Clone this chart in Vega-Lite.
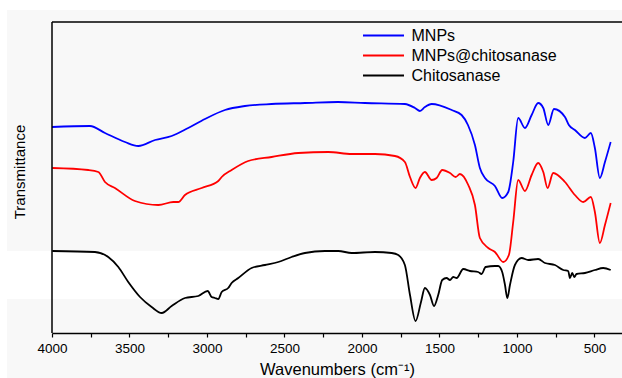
{
  "$schema": "https://vega.github.io/schema/vega-lite/v6.json",
  "width": 570,
  "height": 323,
  "autosize": {"type": "none"},
  "padding": {"left": 52, "top": 10, "right": 0, "bottom": 45},
  "background": "#f8f8f8",
  "config": {
    "view": {"stroke": null},
    "font": "Liberation Sans",
    "axis": {"domainColor": "#000000", "domainWidth": 1.5, "tickColor": "#000000", "labelColor": "#000000", "titleColor": "#000000", "titleFontWeight": "normal"}
  },
  "datasets": {
    "bands": [
      {"x1": 4290, "x2": 200, "y1": 34, "y2": 82},
      {"x1": 5000, "x2": 200, "y1": 323, "y2": 420},
      {"x1": 5000, "x2": 4290, "y1": -100, "y2": 420}
    ],
    "frame": [
      {"xa": 4000, "xb": 300, "ya": 311, "yb": 311},
      {"xa": 4000, "xb": 4000, "ya": 0, "yb": 311}
    ],
    "spectra": [
      {"s": "MNPs", "w": 4000, "t": 206}, {"s": "MNPs", "w": 3755, "t": 207}, {"s": "MNPs", "w": 3658, "t": 200}, {"s": "MNPs", "w": 3529, "t": 191}, {"s": "MNPs", "w": 3443, "t": 187}, {"s": "MNPs", "w": 3335, "t": 193}, {"s": "MNPs", "w": 3228, "t": 197}, {"s": "MNPs", "w": 3121, "t": 205}, {"s": "MNPs", "w": 3013, "t": 214}, {"s": "MNPs", "w": 2884, "t": 223}, {"s": "MNPs", "w": 2755, "t": 227}, {"s": "MNPs", "w": 2583, "t": 229}, {"s": "MNPs", "w": 2368, "t": 230}, {"s": "MNPs", "w": 2155, "t": 231}, {"s": "MNPs", "w": 1981, "t": 230}, {"s": "MNPs", "w": 1723, "t": 229}, {"s": "MNPs", "w": 1658, "t": 225}, {"s": "MNPs", "w": 1626, "t": 222}, {"s": "MNPs", "w": 1594, "t": 226}, {"s": "MNPs", "w": 1550, "t": 229}, {"s": "MNPs", "w": 1421, "t": 223}, {"s": "MNPs", "w": 1357, "t": 218}, {"s": "MNPs", "w": 1316, "t": 208}, {"s": "MNPs", "w": 1271, "t": 188}, {"s": "MNPs", "w": 1239, "t": 165}, {"s": "MNPs", "w": 1206, "t": 155}, {"s": "MNPs", "w": 1142, "t": 147}, {"s": "MNPs", "w": 1095, "t": 135}, {"s": "MNPs", "w": 1056, "t": 141}, {"s": "MNPs", "w": 1024, "t": 171}, {"s": "MNPs", "w": 992, "t": 215}, {"s": "MNPs", "w": 948, "t": 205}, {"s": "MNPs", "w": 905, "t": 218}, {"s": "MNPs", "w": 863, "t": 230}, {"s": "MNPs", "w": 830, "t": 225}, {"s": "MNPs", "w": 798, "t": 208}, {"s": "MNPs", "w": 761, "t": 224}, {"s": "MNPs", "w": 690, "t": 216}, {"s": "MNPs", "w": 665, "t": 208}, {"s": "MNPs", "w": 626, "t": 203}, {"s": "MNPs", "w": 561, "t": 195}, {"s": "MNPs", "w": 523, "t": 200}, {"s": "MNPs", "w": 497, "t": 185}, {"s": "MNPs", "w": 465, "t": 155}, {"s": "MNPs", "w": 432, "t": 171}, {"s": "MNPs", "w": 395, "t": 191},
      {"s": "MNPs@chitosanase", "w": 3998, "t": 165}, {"s": "MNPs@chitosanase", "w": 3766, "t": 163}, {"s": "MNPs@chitosanase", "w": 3701, "t": 161}, {"s": "MNPs@chitosanase", "w": 3658, "t": 151}, {"s": "MNPs@chitosanase", "w": 3594, "t": 145}, {"s": "MNPs@chitosanase", "w": 3465, "t": 132}, {"s": "MNPs@chitosanase", "w": 3314, "t": 128}, {"s": "MNPs@chitosanase", "w": 3217, "t": 131}, {"s": "MNPs@chitosanase", "w": 3185, "t": 131}, {"s": "MNPs@chitosanase", "w": 3142, "t": 138}, {"s": "MNPs@chitosanase", "w": 3034, "t": 145}, {"s": "MNPs@chitosanase", "w": 2927, "t": 152}, {"s": "MNPs@chitosanase", "w": 2905, "t": 156}, {"s": "MNPs@chitosanase", "w": 2841, "t": 163}, {"s": "MNPs@chitosanase", "w": 2734, "t": 172}, {"s": "MNPs@chitosanase", "w": 2583, "t": 176}, {"s": "MNPs@chitosanase", "w": 2411, "t": 180}, {"s": "MNPs@chitosanase", "w": 2217, "t": 181}, {"s": "MNPs@chitosanase", "w": 2066, "t": 179}, {"s": "MNPs@chitosanase", "w": 1916, "t": 179}, {"s": "MNPs@chitosanase", "w": 1787, "t": 177}, {"s": "MNPs@chitosanase", "w": 1723, "t": 171}, {"s": "MNPs@chitosanase", "w": 1690, "t": 156}, {"s": "MNPs@chitosanase", "w": 1654, "t": 145}, {"s": "MNPs@chitosanase", "w": 1626, "t": 155}, {"s": "MNPs@chitosanase", "w": 1594, "t": 161}, {"s": "MNPs@chitosanase", "w": 1550, "t": 153}, {"s": "MNPs@chitosanase", "w": 1518, "t": 155}, {"s": "MNPs@chitosanase", "w": 1482, "t": 163}, {"s": "MNPs@chitosanase", "w": 1432, "t": 160}, {"s": "MNPs@chitosanase", "w": 1395, "t": 156}, {"s": "MNPs@chitosanase", "w": 1368, "t": 159}, {"s": "MNPs@chitosanase", "w": 1314, "t": 148}, {"s": "MNPs@chitosanase", "w": 1271, "t": 128}, {"s": "MNPs@chitosanase", "w": 1239, "t": 95}, {"s": "MNPs@chitosanase", "w": 1185, "t": 85}, {"s": "MNPs@chitosanase", "w": 1142, "t": 81}, {"s": "MNPs@chitosanase", "w": 1088, "t": 71}, {"s": "MNPs@chitosanase", "w": 1052, "t": 78}, {"s": "MNPs@chitosanase", "w": 1024, "t": 111}, {"s": "MNPs@chitosanase", "w": 992, "t": 153}, {"s": "MNPs@chitosanase", "w": 948, "t": 142}, {"s": "MNPs@chitosanase", "w": 905, "t": 158}, {"s": "MNPs@chitosanase", "w": 863, "t": 170}, {"s": "MNPs@chitosanase", "w": 830, "t": 161}, {"s": "MNPs@chitosanase", "w": 802, "t": 145}, {"s": "MNPs@chitosanase", "w": 766, "t": 160}, {"s": "MNPs@chitosanase", "w": 690, "t": 151}, {"s": "MNPs@chitosanase", "w": 626, "t": 138}, {"s": "MNPs@chitosanase", "w": 572, "t": 131}, {"s": "MNPs@chitosanase", "w": 523, "t": 136}, {"s": "MNPs@chitosanase", "w": 497, "t": 121}, {"s": "MNPs@chitosanase", "w": 465, "t": 90}, {"s": "MNPs@chitosanase", "w": 432, "t": 108}, {"s": "MNPs@chitosanase", "w": 395, "t": 130},
      {"s": "Chitosanase", "w": 3998, "t": 82}, {"s": "Chitosanase", "w": 3723, "t": 81}, {"s": "Chitosanase", "w": 3637, "t": 76}, {"s": "Chitosanase", "w": 3572, "t": 66}, {"s": "Chitosanase", "w": 3508, "t": 51}, {"s": "Chitosanase", "w": 3432, "t": 36}, {"s": "Chitosanase", "w": 3357, "t": 26}, {"s": "Chitosanase", "w": 3292, "t": 20}, {"s": "Chitosanase", "w": 3228, "t": 27}, {"s": "Chitosanase", "w": 3142, "t": 35}, {"s": "Chitosanase", "w": 3056, "t": 37}, {"s": "Chitosanase", "w": 2995, "t": 42}, {"s": "Chitosanase", "w": 2970, "t": 36}, {"s": "Chitosanase", "w": 2948, "t": 35}, {"s": "Chitosanase", "w": 2927, "t": 34}, {"s": "Chitosanase", "w": 2905, "t": 41}, {"s": "Chitosanase", "w": 2863, "t": 45}, {"s": "Chitosanase", "w": 2841, "t": 50}, {"s": "Chitosanase", "w": 2798, "t": 55}, {"s": "Chitosanase", "w": 2712, "t": 65}, {"s": "Chitosanase", "w": 2626, "t": 68}, {"s": "Chitosanase", "w": 2540, "t": 71}, {"s": "Chitosanase", "w": 2454, "t": 76}, {"s": "Chitosanase", "w": 2368, "t": 80}, {"s": "Chitosanase", "w": 2239, "t": 82}, {"s": "Chitosanase", "w": 2153, "t": 82}, {"s": "Chitosanase", "w": 2066, "t": 80}, {"s": "Chitosanase", "w": 1916, "t": 81}, {"s": "Chitosanase", "w": 1808, "t": 80}, {"s": "Chitosanase", "w": 1766, "t": 78}, {"s": "Chitosanase", "w": 1723, "t": 68}, {"s": "Chitosanase", "w": 1690, "t": 38}, {"s": "Chitosanase", "w": 1654, "t": 12}, {"s": "Chitosanase", "w": 1619, "t": 31}, {"s": "Chitosanase", "w": 1594, "t": 45}, {"s": "Chitosanase", "w": 1561, "t": 38}, {"s": "Chitosanase", "w": 1535, "t": 27}, {"s": "Chitosanase", "w": 1508, "t": 38}, {"s": "Chitosanase", "w": 1482, "t": 53}, {"s": "Chitosanase", "w": 1454, "t": 55}, {"s": "Chitosanase", "w": 1432, "t": 53}, {"s": "Chitosanase", "w": 1411, "t": 56}, {"s": "Chitosanase", "w": 1389, "t": 55}, {"s": "Chitosanase", "w": 1346, "t": 64}, {"s": "Chitosanase", "w": 1303, "t": 62}, {"s": "Chitosanase", "w": 1250, "t": 61}, {"s": "Chitosanase", "w": 1228, "t": 59}, {"s": "Chitosanase", "w": 1202, "t": 66}, {"s": "Chitosanase", "w": 1142, "t": 67}, {"s": "Chitosanase", "w": 1121, "t": 67}, {"s": "Chitosanase", "w": 1095, "t": 61}, {"s": "Chitosanase", "w": 1077, "t": 48}, {"s": "Chitosanase", "w": 1062, "t": 35}, {"s": "Chitosanase", "w": 1045, "t": 48}, {"s": "Chitosanase", "w": 1013, "t": 68}, {"s": "Chitosanase", "w": 970, "t": 75}, {"s": "Chitosanase", "w": 927, "t": 73}, {"s": "Chitosanase", "w": 863, "t": 74}, {"s": "Chitosanase", "w": 819, "t": 70}, {"s": "Chitosanase", "w": 755, "t": 68}, {"s": "Chitosanase", "w": 701, "t": 63}, {"s": "Chitosanase", "w": 669, "t": 62}, {"s": "Chitosanase", "w": 658, "t": 55}, {"s": "Chitosanase", "w": 643, "t": 60}, {"s": "Chitosanase", "w": 630, "t": 56}, {"s": "Chitosanase", "w": 615, "t": 59}, {"s": "Chitosanase", "w": 561, "t": 60}, {"s": "Chitosanase", "w": 497, "t": 63}, {"s": "Chitosanase", "w": 443, "t": 65}, {"s": "Chitosanase", "w": 395, "t": 63}
    ]
  },
  "layer": [
    {
      "data": {"name": "bands"},
      "mark": {"type": "rect", "color": "#ffffff", "clip": false},
      "encoding": {
        "x": {"field": "x1", "type": "quantitative", "scale": {"domain": [4000, 322], "nice": false, "zero": false}},
        "x2": {"field": "x2"},
        "y": {"field": "y1", "type": "quantitative", "scale": {"domain": [0, 323], "nice": false}},
        "y2": {"field": "y2"}
      }
    },
    {
      "data": {"name": "spectra"},
      "mark": {"type": "line", "strokeWidth": 1.8, "interpolate": "monotone"},
      "encoding": {
        "x": {
          "field": "w", "type": "quantitative",
          "scale": {"domain": [4000, 322], "nice": false, "zero": false},
          "axis": {
            "title": "Wavenumbers (cm⁻¹)",
            "values": [4000, 3750, 3500, 3250, 3000, 2750, 2500, 2250, 2000, 1750, 1500, 1250, 1000, 750, 500],
            "format": "d",
            "labelExpr": "datum.value % 500 == 0 ? datum.label : ''",
            "labelFlush": false,
            "grid": false,
            "tickSize": 4,
            "tickWidth": 1.2,
            "labelFontSize": 13.5,
            "labelPadding": 4,
            "titleFontSize": 16.5,
            "titlePadding": 7
          }
        },
        "y": {
          "field": "t", "type": "quantitative",
          "scale": {"domain": [0, 323], "nice": false},
          "axis": {"title": "Transmittance", "labels": false, "ticks": false, "domain": false, "grid": false, "titleFontSize": 15, "titlePadding": 25}
        },
        "color": {
          "field": "s", "type": "nominal",
          "scale": {"domain": ["MNPs", "MNPs@chitosanase", "Chitosanase"], "range": ["#0000ff", "#ff0000", "#000000"]},
          "legend": {
            "title": null,
            "orient": "none",
            "legendX": 320,
            "legendY": 14,
            "symbolType": "M-2,0H2",
            "symbolSize": 420,
            "symbolStrokeWidth": 1.8,
            "labelFontSize": 16,
            "labelColor": "#000000",
            "labelOffset": 16.5,
            "rowPadding": -2
          }
        }
      }
    },
    {
      "data": {"name": "frame"},
      "mark": {"type": "rule", "color": "#000000", "strokeWidth": 1.5, "clip": false},
      "encoding": {
        "x": {"field": "xa", "type": "quantitative"},
        "x2": {"field": "xb"},
        "y": {"field": "ya", "type": "quantitative"},
        "y2": {"field": "yb"}
      }
    }
  ]
}
